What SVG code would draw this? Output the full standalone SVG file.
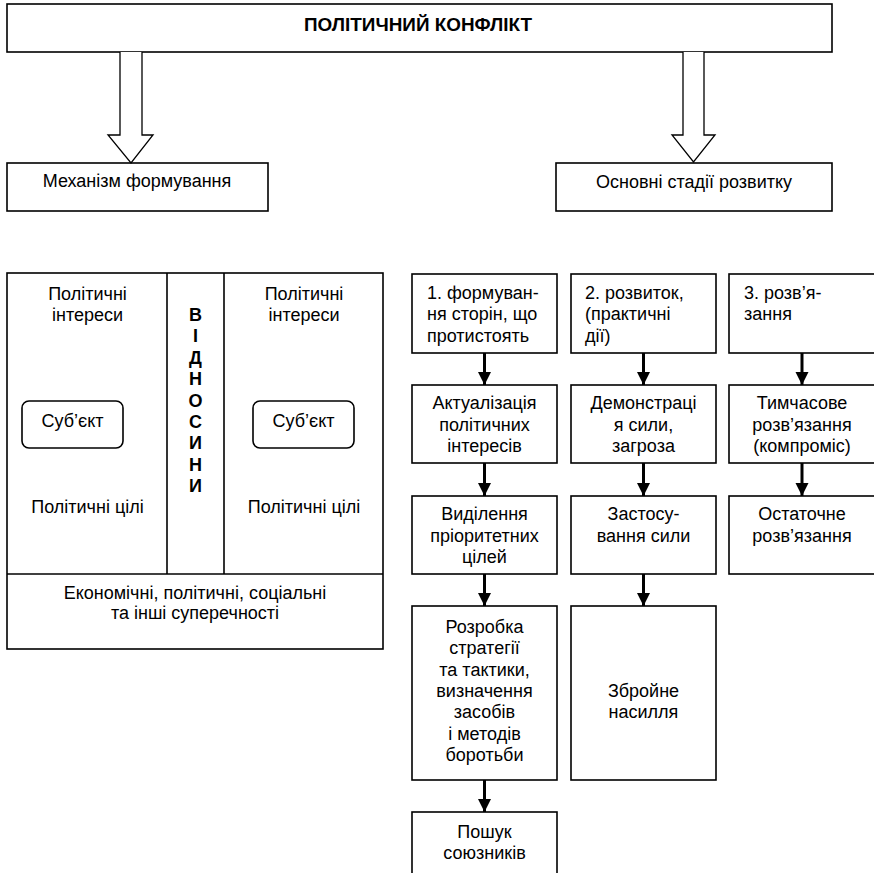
<svg xmlns="http://www.w3.org/2000/svg" width="874" height="873" viewBox="0 0 874 873">
<style>
  .box { fill: #fff; stroke: #000; stroke-width: 1.6; }
  .line { stroke: #000; stroke-width: 1.6; fill: none; }
  .t { font-family: "Liberation Sans", Arial, sans-serif; font-size: 18px; fill: #000; }
  .c { text-anchor: middle; }
  .b { font-weight: bold; }
  .conn { stroke: #000; stroke-width: 3; fill: none; }
  .big { fill: #fff; stroke: #000; stroke-width: 1.3; }
</style>
<defs>
  <marker id="ah" viewBox="0 0 10 10" refX="10" refY="5" markerWidth="4.4" markerHeight="4.4" markerUnits="strokeWidth" orient="auto">
    <path d="M0,0 L10,5 L0,10 Z" fill="#000"/>
  </marker>
</defs>
<rect width="874" height="873" fill="#fff"/>

<g id="title">
  <rect class="box" x="7" y="4" width="825" height="48"/>
  <text class="t b c" x="418" y="31" font-size="19" textLength="228" lengthAdjust="spacingAndGlyphs">ПОЛІТИЧНИЙ  КОНФЛІКТ</text>
</g>

<g id="mechanism">
  <rect class="box" x="7" y="163" width="261" height="48"/>
  <text class="t c" x="137" y="187">Механізм формування</text>
</g>

<g id="stages">
  <rect class="box" x="556" y="163" width="276" height="48"/>
  <text class="t c" x="694" y="188">Основні стадії розвитку</text>
</g>

<g id="mechanism-block">
  <rect class="box" x="7" y="273" width="376" height="376"/>
  <line class="line" x1="167" y1="273" x2="167" y2="574"/>
  <line class="line" x1="224" y1="273" x2="224" y2="574"/>
  <line class="line" x1="7" y1="574" x2="383" y2="574"/>
  <text class="t c" x="87.5" y="300">Політичні</text>
  <text class="t c" x="87.5" y="321">інтереси</text>
  <text class="t c" x="87.5" y="513">Політичні цілі</text>
  <text class="t c" x="304" y="300">Політичні</text>
  <text class="t c" x="304" y="321">інтереси</text>
  <text class="t c" x="304" y="513">Політичні цілі</text>
  <text class="t b c" x="195.5" y="321">В</text>
  <text class="t b c" x="195.5" y="342">І</text>
  <text class="t b c" x="195.5" y="364">Д</text>
  <text class="t b c" x="195.5" y="385">Н</text>
  <text class="t b c" x="195.5" y="407">О</text>
  <text class="t b c" x="195.5" y="428">С</text>
  <text class="t b c" x="195.5" y="449">И</text>
  <text class="t b c" x="195.5" y="471">Н</text>
  <text class="t b c" x="195.5" y="492">И</text>
  <text class="t c" x="195" y="599">Економічні, політичні, соціальні</text>
  <text class="t c" x="195" y="619">та інші суперечності</text>
</g>

<g id="subject-left">
  <rect class="box" x="22" y="401" width="101" height="47" rx="7"/>
  <text class="t c" x="72.5" y="427">Суб’єкт</text>
</g>
<g id="subject-right">
  <rect class="box" x="253" y="401" width="101" height="47" rx="7"/>
  <text class="t c" x="303.5" y="427">Суб’єкт</text>
</g>

<g id="s1-1">
  <rect class="box" x="412" y="274" width="145" height="79"/>
  <text class="t" x="427" y="299">1. формуван-</text>
  <text class="t" x="427" y="320">ня сторін, що</text>
  <text class="t" x="427" y="342">протистоять</text>
</g>
<g id="s1-2">
  <rect class="box" x="412" y="385" width="145" height="78"/>
  <text class="t c" x="484.5" y="409">Актуалізація</text>
  <text class="t c" x="484.5" y="431">політичних</text>
  <text class="t c" x="484.5" y="452">інтересів</text>
</g>
<g id="s1-3">
  <rect class="box" x="412" y="496" width="145" height="78"/>
  <text class="t c" x="484.5" y="520">Виділення</text>
  <text class="t c" x="484.5" y="542">пріоритетних</text>
  <text class="t c" x="484.5" y="563">цілей</text>
</g>
<g id="s1-4">
  <rect class="box" x="412" y="606" width="145" height="174"/>
  <text class="t c" x="484.5" y="633">Розробка</text>
  <text class="t c" x="484.5" y="654">стратегії</text>
  <text class="t c" x="484.5" y="676">та тактики,</text>
  <text class="t c" x="484.5" y="697">визначення</text>
  <text class="t c" x="484.5" y="718">засобів</text>
  <text class="t c" x="484.5" y="740">і методів</text>
  <text class="t c" x="484.5" y="761">боротьби</text>
</g>
<g id="s1-5">
  <rect class="box" x="412" y="812" width="145" height="80"/>
  <text class="t c" x="484.5" y="838">Пошук</text>
  <text class="t c" x="484.5" y="859">союзників</text>
</g>

<g id="s2-1">
  <rect class="box" x="571" y="274" width="145" height="79"/>
  <text class="t" x="585" y="299">2. розвиток,</text>
  <text class="t" x="585" y="320">(практичні</text>
  <text class="t" x="585" y="342">дії)</text>
</g>
<g id="s2-2">
  <rect class="box" x="571" y="385" width="145" height="78"/>
  <text class="t c" x="643.5" y="409">Демонстраці</text>
  <text class="t c" x="643.5" y="431">я сили,</text>
  <text class="t c" x="643.5" y="452">загроза</text>
</g>
<g id="s2-3">
  <rect class="box" x="571" y="496" width="145" height="78"/>
  <text class="t c" x="643.5" y="520">Застосу-</text>
  <text class="t c" x="643.5" y="542">вання сили</text>
</g>
<g id="s2-4">
  <rect class="box" x="571" y="606" width="145" height="174"/>
  <text class="t c" x="643.5" y="697">Збройне</text>
  <text class="t c" x="643.5" y="718">насилля</text>
</g>

<g id="s3-1">
  <rect class="box" x="729" y="274" width="150" height="79"/>
  <text class="t" x="744" y="299">3. розв’я-</text>
  <text class="t" x="744" y="320">зання</text>
</g>
<g id="s3-2">
  <rect class="box" x="729" y="385" width="150" height="78"/>
  <text class="t c" x="802" y="409">Тимчасове</text>
  <text class="t c" x="802" y="431">розв’язання</text>
  <text class="t c" x="802" y="452">(компроміс)</text>
</g>
<g id="s3-3">
  <rect class="box" x="729" y="496" width="150" height="78"/>
  <text class="t c" x="802" y="520">Остаточне</text>
  <text class="t c" x="802" y="542">розв’язання</text>
</g>

<g id="connectors">
  <path class="big" d="M120,52 V135 H108 L131,163 L153,135 H142 V52"/>
  <path class="big" d="M683,52 V135 H672 L693.5,162 L715,135 H704 V52"/>
  <line class="conn" x1="484.5" y1="353" x2="484.5" y2="385" marker-end="url(#ah)"/>
  <line class="conn" x1="484.5" y1="463" x2="484.5" y2="496" marker-end="url(#ah)"/>
  <line class="conn" x1="484.5" y1="574" x2="484.5" y2="606" marker-end="url(#ah)"/>
  <line class="conn" x1="484.5" y1="780" x2="484.5" y2="812" marker-end="url(#ah)"/>
  <line class="conn" x1="643.5" y1="353" x2="643.5" y2="385" marker-end="url(#ah)"/>
  <line class="conn" x1="643.5" y1="463" x2="643.5" y2="496" marker-end="url(#ah)"/>
  <line class="conn" x1="643.5" y1="574" x2="643.5" y2="606" marker-end="url(#ah)"/>
  <line class="conn" x1="802" y1="353" x2="802" y2="385" marker-end="url(#ah)"/>
  <line class="conn" x1="802" y1="463" x2="802" y2="496" marker-end="url(#ah)"/>
</g>
</svg>
